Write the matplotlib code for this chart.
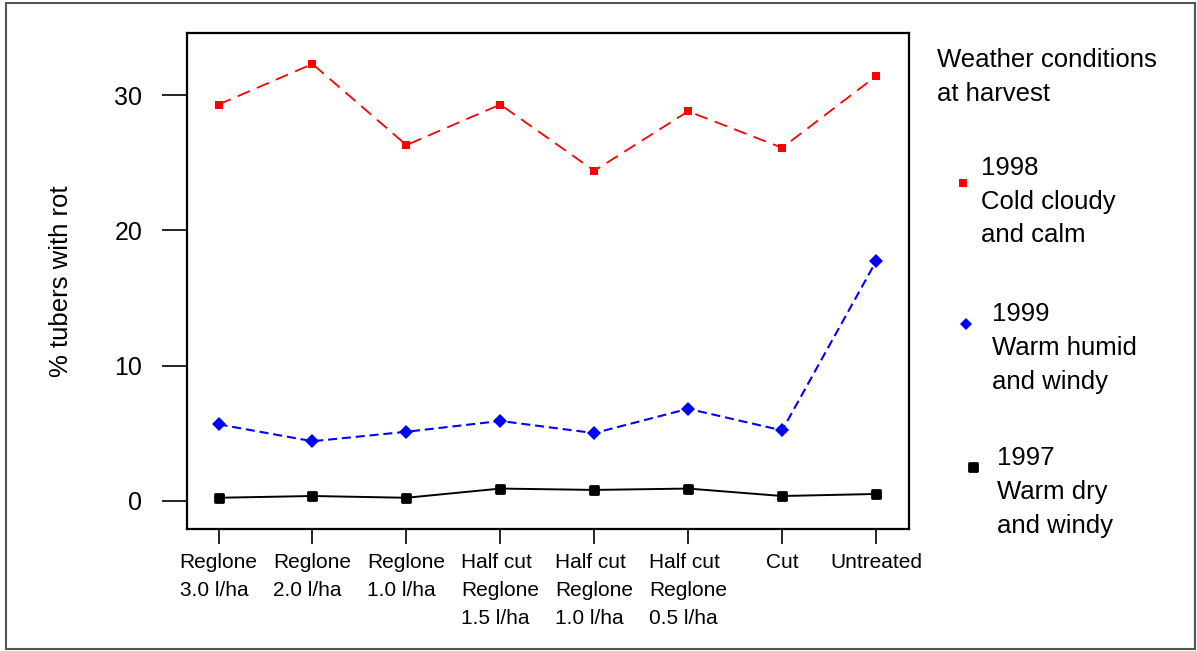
import matplotlib
matplotlib.use("Agg")
import matplotlib.pyplot as plt
from matplotlib.lines import Line2D
from matplotlib.patches import Rectangle
from matplotlib.markers import MarkerStyle

plt.rcParams['font.family'] = ['Liberation Sans', 'DejaVu Sans']
plt.rcParams['lines.scale_dashes'] = False

categories = ["Reglone\n3.0 l/ha", "Reglone\n2.0 l/ha", "Reglone\n1.0 l/ha",
              "Half cut\nReglone\n1.5 l/ha", "Half cut\nReglone\n1.0 l/ha",
              "Half cut\nReglone\n0.5 l/ha", "Cut", "Untreated"]
rot_1998 = [29.3, 32.3, 26.3, 29.3, 24.4, 28.8, 26.1, 31.4]
rot_1999 = [5.65, 4.4, 5.1, 5.9, 5.0, 6.8, 5.2, 17.7]
rot_1997 = [0.22, 0.35, 0.22, 0.9, 0.8, 0.9, 0.35, 0.5]
yticks = [0, 10, 20, 30]

W, H = 1197, 651
fig = plt.figure(figsize=(W / 100, H / 100), dpi=100)
fig.patch.set_facecolor('white')

def fx(px):
    return px / W

def fy(py):
    return 1 - py / H

left, right, top, bottom = 186.7, 909, 33, 529
ax = fig.add_axes([fx(left), fy(bottom), fx(right) - fx(left), fy(top) - fy(bottom)])

x = list(range(len(categories)))
red, blue = '#FF0000', '#0000FF'
rounded_sq = MarkerStyle('s', joinstyle='round')
ax.plot(x, rot_1998, color=red, lw=1.3, dashes=(9.5, 5.5), marker='s', ms=6.4,
        mec=red, mfc=red, mew=0, zorder=3)
ax.plot(x, rot_1999, color=blue, lw=1.5, dashes=(6.5, 3.5), marker='D', ms=7.2,
        mec=blue, mfc=blue, mew=0, zorder=3)
ax.plot(x, rot_1997, color='black', lw=1.4, marker=rounded_sq,
        ms=6.4, mec='black', mfc='black', mew=2.0, zorder=3)

ax.set_xlim(-0.339, 7.351)
ax.set_ylim(-2.09, 34.59)
ax.set_yticks(yticks)
ax.set_yticklabels([str(v) for v in yticks], fontsize=18)
ax.set_xticks(x)
ax.set_xticklabels(categories, fontsize=15, multialignment='left', linespacing=1.6)
ax.tick_params(axis='y', length=18, width=1.2, pad=14)
ax.tick_params(axis='x', length=11, width=1.2, pad=6)
for s in ax.spines.values():
    s.set_linewidth(1.6)
ax.set_ylabel('% tubers with rot', fontsize=18.5, labelpad=30)

# legend-like annotation
def lines_at(xpx, baselines, texts):
    for b, t in zip(baselines, texts):
        fig.text(fx(xpx), fy(b), t, fontsize=18.5, ha='left', va='baseline')

lines_at(936.7, [66.7, 101], ["Weather conditions", "at harvest"])
lines_at(981, [175, 208.5, 242.5], ["1998", "Cold cloudy", "and calm"])
lines_at(991.7, [320.7, 355, 388.5], ["1999", "Warm humid", "and windy"])
lines_at(996.7, [465, 499, 532.5], ["1997", "Warm dry", "and windy"])

fig.add_artist(Line2D([fx(962.7)], [fy(182.7)], transform=fig.transFigure, marker='s',
                      ms=5.4, mfc=red, mec=red, mew=0, linestyle='none'))
fig.add_artist(Line2D([fx(966.3)], [fy(324)], transform=fig.transFigure, marker='D',
                      ms=6.2, mfc=blue, mec=blue, mew=0, linestyle='none'))
fig.add_artist(Line2D([fx(973.3)], [fy(467.3)], transform=fig.transFigure,
                      marker=rounded_sq,
                      ms=5.8, mfc='black', mec='black', mew=2.0, linestyle='none'))

fig.add_artist(Rectangle((fx(6), fy(649)), fx(1195) - fx(6), fy(2.5) - fy(649),
                         transform=fig.transFigure, fill=False, edgecolor='#555555',
                         linewidth=1.5))

fig.savefig('out.png', dpi=100)
